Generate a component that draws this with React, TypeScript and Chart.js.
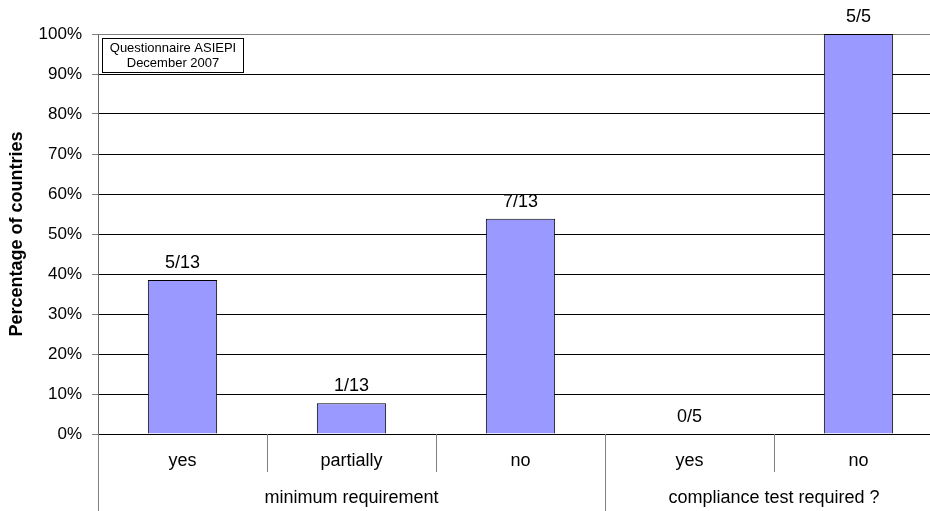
import React, { useEffect, useRef } from "react";
import { Chart, registerables } from "chart.js";

Chart.register(...registerables);

const categories = ["yes", "partially", "no", "yes", "no"];
const groups = ["minimum requirement", "compliance test required ?"];
const groupSizes = [3, 2];
const values = [38.5, 7.7, 53.8, 0, 100];
const valueLabels = ["5/13", "1/13", "7/13", "0/5", "5/5"];
const yTitle = "Percentage of countries";
const noteLines = ["Questionnaire ASIEPI", "December 2007"];

const FONT = "'Liberation Sans', Arial, sans-serif";

const decorPlugin = {
  id: "decor",
  afterDatasetsDraw(chart: any) {
    const ctx = chart.ctx;
    const meta = chart.getDatasetMeta(0);
    ctx.save();
    ctx.fillStyle = "#000";
    ctx.font = `18px ${FONT}`;
    ctx.textAlign = "center";
    ctx.textBaseline = "alphabetic";
    meta.data.forEach((bar: any, i: number) => {
      ctx.fillText(valueLabels[i], bar.x, bar.y - 12);
    });
    ctx.restore();
  },
  afterDraw(chart: any) {
    const ctx = chart.ctx;
    const xs = chart.scales.x;
    const area = chart.chartArea;
    const n = categories.length;
    const centers = categories.map((_, i) => xs.getPixelForValue(i));
    const half = n > 1 ? (centers[1] - centers[0]) / 2 : (area.right - area.left) / 2;
    const bounds: number[] = [];
    for (let i = 0; i <= n; i++) {
      bounds.push(i === 0 ? centers[0] - half : centers[i - 1] + half);
    }
    const groupEdges = new Set<number>();
    let acc = 0;
    groupEdges.add(0);
    groupSizes.forEach((s) => {
      acc += s;
      groupEdges.add(acc);
    });
    const canvasH = chart.height;
    ctx.save();
    ctx.strokeStyle = "#808080";
    ctx.lineWidth = 1;
    for (let i = 0; i <= n; i++) {
      const x = Math.round(bounds[i]) + 0.5;
      const yEnd = groupEdges.has(i) ? canvasH : area.bottom + 38;
      ctx.beginPath();
      ctx.moveTo(x, area.bottom);
      ctx.lineTo(x, yEnd);
      ctx.stroke();
    }
    ctx.fillStyle = "#000";
    ctx.font = `18px ${FONT}`;
    ctx.textAlign = "center";
    ctx.textBaseline = "middle";
    categories.forEach((c, i) => {
      ctx.fillText(c, centers[i], area.bottom + 27);
    });
    let start = 0;
    groups.forEach((g, gi) => {
      const end = start + groupSizes[gi];
      const cx = (bounds[start] + bounds[end]) / 2;
      ctx.fillText(g, cx, area.bottom + 64);
      start = end;
    });
    // note box
    const bx = area.left + 4.5;
    const by = area.top + 4.5;
    const bw = 141;
    const bh = 34;
    ctx.fillStyle = "#fff";
    ctx.fillRect(bx, by, bw, bh);
    ctx.strokeStyle = "#000";
    ctx.strokeRect(bx, by, bw, bh);
    ctx.fillStyle = "#000";
    ctx.font = `13px ${FONT}`;
    noteLines.forEach((t, i) => {
      ctx.fillText(t, bx + bw / 2, by + 10 + i * 15);
    });
    ctx.restore();
  },
};

export default function App() {
  const ref = useRef<HTMLCanvasElement>(null);
  useEffect(() => {
    if (!ref.current) return;
    const chart = new Chart(ref.current, {
      type: "bar",
      data: {
        labels: categories,
        datasets: [
          {
            data: values,
            backgroundColor: "#9999FF",
            borderColor: "#000",
            borderWidth: 1,
            barPercentage: 0.41,
            categoryPercentage: 1,
          },
        ],
      },
      options: {
        responsive: false,
        animation: false,
        devicePixelRatio: 1,
        layout: { padding: { top: 34, right: 17, bottom: 77, left: 0 } },
        plugins: { legend: { display: false }, tooltip: { enabled: false } },
        scales: {
          x: { display: false },
          y: {
            min: 0,
            max: 100,
            ticks: {
              stepSize: 10,
              callback: (v: any) => v + "%",
              font: { family: FONT, size: 17 },
              color: "#000",
              padding: 10,
            },
            grid: {
              color: (c: any) => (c.tick && c.tick.value === 100 ? "#808080" : "#000"),
              tickColor: "#808080",
              tickLength: 6,
              lineWidth: 1,
            },
            border: { color: "#666" },
            title: {
              display: true,
              text: yTitle,
              font: { family: FONT, size: 18, weight: "bold" },
              color: "#000",
              padding: { top: 6, bottom: 0 },
            },
            afterFit: (s: any) => {
              s.width = 98;
            },
          },
        },
      },
      plugins: [decorPlugin],
    } as any);
    return () => chart.destroy();
  }, []);
  return (
    <div
      style={{
        position: "fixed",
        left: 0,
        top: 0,
        width: 930,
        height: 511,
        overflow: "hidden",
        background: "#fff",
      }}
    >
      <canvas ref={ref} width={960} height={511} style={{ display: "block" }} />
    </div>
  );
}
